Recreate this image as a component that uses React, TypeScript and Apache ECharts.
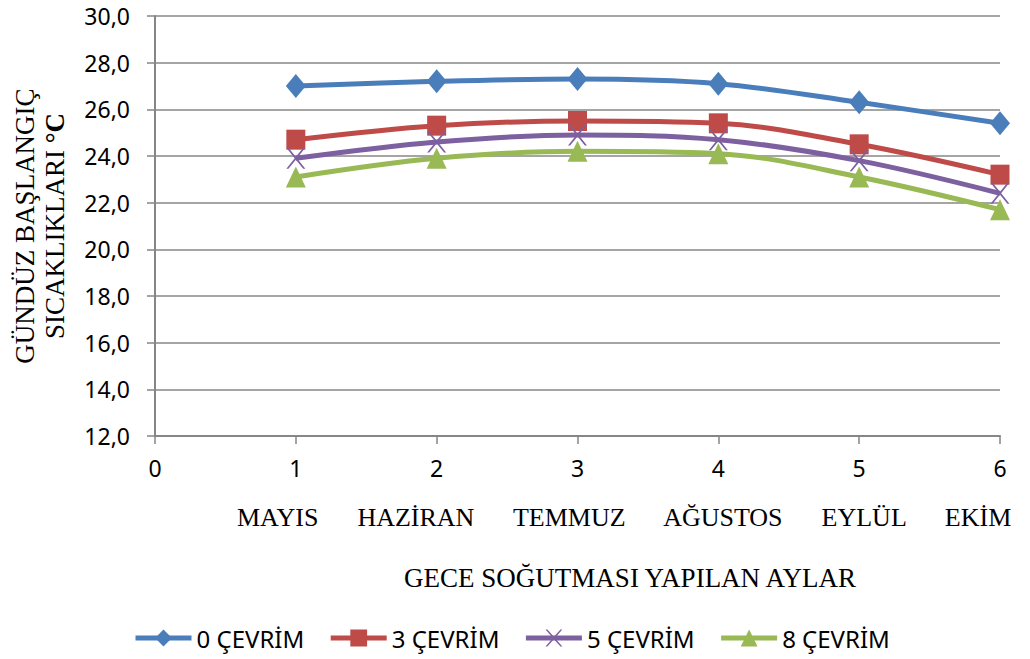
import React, { useEffect, useRef } from "react";
import * as echarts from "echarts";

const xValues = [1, 2, 3, 4, 5, 6];
const months = ["MAYIS", "HAZİRAN", "TEMMUZ", "AĞUSTOS", "EYLÜL", "EKİM"];
const seriesNames = ["0 ÇEVRİM", "3 ÇEVRİM", "5 ÇEVRİM", "8 ÇEVRİM"];
const cycle0 = [27.0, 27.2, 27.3, 27.1, 26.3, 25.4];
const cycle3 = [24.7, 25.3, 25.5, 25.4, 24.5, 23.2];
const cycle5 = [23.9, 24.6, 24.9, 24.7, 23.8, 22.4];
const cycle8 = [23.1, 23.9, 24.2, 24.1, 23.1, 21.7];
const colors = ["#4A7EBB", "#BE4B48", "#7D60A0", "#98B954"];
const yTitle = ["GÜNDÜZ BAŞLANGIÇ", "SICAKLIKLARI "];
const xTitle = "GECE SOĞUTMASI YAPILAN AYLAR";

const crossPath =
  "path://M0,0 L2.2,0 L10,8.6 L17.8,0 L20,0 L11.2,10 L20,20 L17.8,20 L10,11.4 L2.2,20 L0,20 L8.8,10 Z";

const symbols = ["diamond", "rect", crossPath, "triangle"];
const symbolSizes: any[] = [[20, 24], [19, 20], [19, 21], [20, 21]];

const SANS = "'Noto Sans', sans-serif";
const SERIF = "'Liberation Serif', 'Times New Roman', serif";

export default function App() {
  const ref = useRef<HTMLDivElement>(null);
  useEffect(() => {
    document.body.style.margin = "0";
    if (!ref.current) return;
    const chart = echarts.init(ref.current, null, { renderer: "svg" });
    const datasets = [cycle0, cycle3, cycle5, cycle8];
    chart.setOption({
      animation: false,
      backgroundColor: "#ffffff",
      grid: { left: 155, right: 30, top: 16, bottom: 223 },
      xAxis: {
        type: "value",
        min: 0,
        max: 6,
        interval: 1,
        axisLine: { show: true, lineStyle: { color: "#868686", width: 2 } },
        axisTick: { show: true, length: 8, lineStyle: { color: "#868686", width: 1.5 } },
        splitLine: { show: false },
        axisLabel: {
          margin: 20,
          color: "#000",
          fontFamily: SANS,
          fontSize: 23,
        },
      },
      yAxis: {
        type: "value",
        min: 12,
        max: 30,
        interval: 2,
        axisLine: { show: true, lineStyle: { color: "#868686", width: 2 } },
        axisTick: { show: true, length: 8, lineStyle: { color: "#868686", width: 1.5 } },
        splitLine: { show: true, lineStyle: { color: "#878787", width: 1.5 } },
        axisLabel: {
          margin: 25,
          color: "#000",
          fontFamily: SANS,
          fontSize: 23,
          formatter: (v: number) => v.toFixed(1).replace(".", ","),
        },
        name: `{a|${yTitle[0]}}\n{a|${yTitle[1]}}{b|°C}`,
        nameLocation: "middle",
        nameRotate: 90,
        nameGap: 85,
        nameTextStyle: {
          rich: {
            a: { fontFamily: SERIF, fontSize: 27, lineHeight: 30, color: "#000" },
            b: { fontFamily: SERIF, fontSize: 27, lineHeight: 30, color: "#000", fontWeight: "bold" },
          },
        },
      },
      legend: {
        left: 133,
        top: 626,
        padding: 0,
        itemWidth: 56,
        itemHeight: 21,
        itemGap: 24,
        lineStyle: { width: 5 },
        textStyle: { fontFamily: SANS, fontSize: 24, color: "#000" },
        data: seriesNames,
      },
      graphic: [
        {
          type: "text",
          x: 237,
          y: 517,
          style: {
            text: months.join("      "),
            font: `26px ${SERIF}`,
            fill: "#000",
            align: "left",
            verticalAlign: "middle",
          },
        },
        {
          type: "text",
          x: 630,
          y: 578,
          style: {
            text: xTitle,
            font: `27px ${SERIF}`,
            fill: "#000",
            align: "center",
            verticalAlign: "middle",
          },
        },
      ],
      series: seriesNames.map((name, i) => ({
        name,
        type: "line",
        smooth: 0.35,
        symbol: symbols[i],
        symbolSize: symbolSizes[i],
        showAllSymbol: true,
        lineStyle: { color: colors[i], width: 5 },
        itemStyle: { color: colors[i] },
        data: xValues.map((x, j) => [x, datasets[i][j]]),
        z: 2 + i,
      })),
    });
    return () => chart.dispose();
  }, []);
  return <div ref={ref} style={{ width: 1030, height: 659 }} />;
}
